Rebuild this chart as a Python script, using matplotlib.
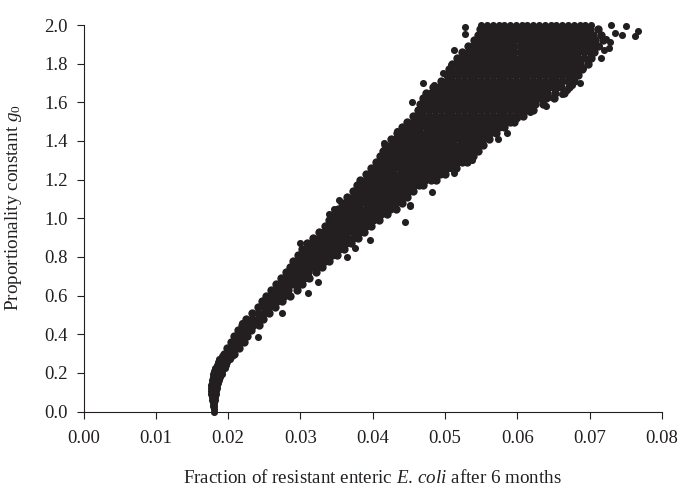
import matplotlib
matplotlib.use('Agg')
import matplotlib.pyplot as plt

# narrow foot of the cloud, drawn at the true dot size
tip_y = [0.00, 0.015, 0.03, 0.045, 0.06, 0.075, 0.09, 0.105, 0.12, 0.135, 0.15, 0.165, 0.18, 0.195, 0.21, 0.225, 0.24,
         0.255, 0.27, 0.285]
tip_x = [[.0180], [.0180], [.0179, .0181], [.0179, .0181], [.0178, .0182], [.0178, .0182], [.0177, .0183],
         [.0177, .0180, .0183], [.0177, .0181, .0184], [.0177, .0181, .0185], [.0178, .0182, .0186],
         [.0178, .0183, .0188], [.0179, .0184, .0189], [.0179, .0185, .0191], [.0180, .0186, .0192],
         [.0182, .0188, .0195], [.0184, .0190, .0197], [.0186, .0193, .0199], [.0188, .0195, .0202],
         [.0191, .0198, .0205]]

# points, row by row (one y value, several x values)
low_y = [0.30, 0.33, 0.36, 0.39, 0.42, 0.45, 0.48, 0.51, 0.54, 0.57, 0.60, 0.63, 0.66, 0.69, 0.72]
low_x = [
    [.0194, .0201, .0208],
    [.0199, .0207, .0215], [.0204, .0213, .0222], [.0208, .0217, .0226], [.0213, .0222, .0232],
    [.0219, .0227, .0235, .0243], [.0225, .0233, .0241, .0248], [.0233, .0241, .0249, .0257],
    [.0241, .0249, .0257, .0265], [.0247, .0254, .0261, .0268, .0275], [.0253, .0261, .0269, .0277, .0285],
    [.0259, .0267, .0275, .0283, .0295], [.0266, .0273, .0280, .0288, .0295, .0302],
    [.0273, .0281, .0289, .0297, .0305, .0312], [.0280, .0287, .0295, .0303, .0311, .0321],
]

mid_y = [0.75, 0.78, 0.81, 0.84, 0.87, 0.90, 0.93, 0.96, 0.99, 1.02, 1.05, 1.08, 1.11, 1.14, 1.17, 1.20, 1.23, 1.26,
         1.29, 1.32, 1.35, 1.38, 1.41, 1.44]
mid_x = [
    [.0285, .0292, .0300, .0308, .0316, .0323, .0330],
    [.0290, .0298, .0306, .0313, .0320, .0327, .0334, .0340],
    [.0296, .0303, .0311, .0319, .0327, .0335, .0343, .0350],
    [.0302, .0309, .0316, .0323, .0331, .0338, .0346, .0353, .0360],
    [.0309, .0317, .0325, .0333, .0341, .0348, .0355, .0363, .0370],
    [.0318, .0325, .0333, .0340, .0348, .0356, .0364, .0372, .0380],
    [.0326, .0333, .0341, .0349, .0357, .0365, .0373, .0381, .0388],
    [.0334, .0342, .0350, .0358, .0366, .0374, .0382, .0390, .0397],
    [.0340, .0347, .0355, .0363, .0371, .0379, .0386, .0393, .0400, .0408],
    [.0346, .0354, .0362, .0370, .0378, .0386, .0394, .0402, .0411, .0420],
    [.0352, .0359, .0367, .0375, .0383, .0391, .0399, .0407, .0415, .0424, .0432],
    [.0358, .0366, .0374, .0382, .0390, .0398, .0406, .0414, .0422, .0431, .0440],
    [.0365, .0372, .0380, .0388, .0396, .0404, .0412, .0420, .0428, .0436, .0442, .0448],
    [.0373, .0381, .0389, .0397, .0405, .0413, .0421, .0429, .0437, .0444, .0450, .0455],
    [.0378, .0385, .0393, .0401, .0409, .0417, .0425, .0433, .0441, .0449, .0457, .0464, .0470],
    [.0383, .0391, .0399, .0407, .0415, .0423, .0431, .0439, .0447, .0455, .0463, .0472, .0480, .0488],
    [.0390, .0397, .0405, .0413, .0421, .0429, .0437, .0445, .0453, .0461, .0469, .0477, .0485, .0493, .0500],
    [.0398, .0406, .0414, .0422, .0430, .0438, .0446, .0454, .0462, .0470, .0478, .0486, .0494, .0502, .0509, .0515],
    [.0405, .0412, .0420, .0428, .0436, .0444, .0452, .0460, .0468, .0476, .0484, .0492, .0500, .0508, .0516, .0523,
     .0530],
    [.0410, .0418, .0426, .0434, .0442, .0450, .0458, .0466, .0474, .0482, .0490, .0498, .0506, .0514, .0522, .0530,
     .0538],
    [.0414, .0421, .0429, .0437, .0445, .0453, .0461, .0469, .0477, .0485, .0493, .0501, .0509, .0517, .0525, .0533,
     .0540, .0545],
    [.0417, .0425, .0433, .0441, .0449, .0457, .0465, .0473, .0481, .0489, .0497, .0505, .0513, .0521, .0529, .0537,
     .0545, .0552],
    [.0425, .0432, .0440, .0448, .0456, .0464, .0472, .0480, .0488, .0496, .0504, .0512, .0520, .0528, .0536, .0544,
     .0552, .0561],
    [.0434, .0442, .0450, .0458, .0466, .0474, .0482, .0490, .0498, .0506, .0514, .0522, .0530, .0538, .0546, .0554,
     .0562, .0571],
]

high_y = [1.47, 1.50, 1.53, 1.56, 1.59, 1.62, 1.65, 1.68, 1.71, 1.74, 1.77, 1.80, 1.83, 1.86, 1.89, 1.92, 1.95, 1.98]
high_x = [
    [.0441, .0449, .0457, .0465, .0473, .0481, .0489, .0497, .0505, .0513, .0521, .0529, .0537, .0545, .0553, .0561,
     .0569, .0575, .0581],
    [.0448, .0456, .0464, .0472, .0480, .0488, .0496, .0504, .0512, .0520, .0528, .0536, .0544, .0552, .0560, .0568,
     .0576, .0584, .0590, .0595],
    [.0455, .0462, .0470, .0478, .0486, .0494, .0502, .0510, .0518, .0526, .0534, .0542, .0550, .0558, .0566, .0574,
     .0582, .0590, .0598, .0608],
    [.0462, .0470, .0478, .0486, .0494, .0502, .0510, .0518, .0526, .0534, .0542, .0550, .0558, .0566, .0574, .0582,
     .0590, .0598, .0606, .0614, .0622],
    [.0466, .0473, .0481, .0489, .0497, .0505, .0513, .0521, .0529, .0537, .0545, .0553, .0561, .0569, .0577, .0585,
     .0593, .0601, .0609, .0617, .0625, .0636],
    [.0470, .0478, .0486, .0494, .0502, .0510, .0518, .0526, .0534, .0542, .0550, .0558, .0566, .0574, .0582, .0590,
     .0598, .0606, .0614, .0622, .0630, .0640, .0650],
    [.0474, .0481, .0489, .0497, .0505, .0513, .0521, .0529, .0537, .0545, .0553, .0561, .0569, .0577, .0585, .0593,
     .0601, .0609, .0617, .0625, .0633, .0641, .0652, .0664],
    [.0484, .0492, .0500, .0508, .0516, .0524, .0532, .0540, .0548, .0556, .0564, .0572, .0580, .0588, .0596, .0604,
     .0612, .0620, .0628, .0636, .0644, .0652, .0660, .0672],
    [.0495, .0502, .0510, .0518, .0526, .0534, .0542, .0550, .0558, .0566, .0574, .0582, .0590, .0598, .0606, .0614,
     .0622, .0630, .0638, .0646, .0654, .0662, .0670, .0678],
    [.0502, .0510, .0518, .0526, .0534, .0542, .0550, .0558, .0566, .0574, .0582, .0590, .0598, .0606, .0614, .0622,
     .0630, .0638, .0646, .0654, .0662, .0670, .0678, .0684],
    [.0506, .0513, .0521, .0529, .0537, .0545, .0553, .0561, .0569, .0577, .0585, .0593, .0601, .0609, .0617, .0625,
     .0633, .0641, .0649, .0657, .0665, .0673, .0681, .0690],
    [.0510, .0518, .0526, .0534, .0542, .0550, .0558, .0566, .0574, .0582, .0590, .0598, .0606, .0614, .0622, .0630,
     .0638, .0646, .0654, .0662, .0670, .0678, .0686, .0697],
    [.0516, .0523, .0531, .0539, .0547, .0555, .0563, .0571, .0579, .0587, .0595, .0603, .0611, .0619, .0627, .0635,
     .0643, .0651, .0659, .0667, .0675, .0683, .0692, .0702],
    [.0524, .0532, .0540, .0548, .0556, .0564, .0572, .0580, .0588, .0596, .0604, .0612, .0620, .0628, .0636, .0644,
     .0652, .0660, .0668, .0676, .0684, .0692, .0700, .0706],
    [.0532, .0539, .0547, .0555, .0563, .0571, .0579, .0587, .0595, .0603, .0611, .0619, .0627, .0635, .0643, .0651,
     .0659, .0667, .0675, .0683, .0691, .0699, .0706, .0712],
    [.0540, .0548, .0556, .0564, .0572, .0580, .0588, .0596, .0604, .0612, .0620, .0628, .0636, .0644, .0652, .0660,
     .0668, .0676, .0684, .0692, .0700, .0708, .0718],
    [.0545, .0553, .0561, .0569, .0577, .0585, .0593, .0601, .0609, .0617, .0625, .0633, .0641, .0649, .0657, .0665,
     .0673, .0681, .0689, .0697, .0705, .0715],
    [.0548, .0556, .0564, .0572, .0580, .0588, .0596, .0604, .0612, .0620, .0628, .0636, .0644, .0652, .0660, .0668,
     .0676, .0684, .0692, .0700, .0712],
]

# single points standing off the edge of the cloud, and the top row that sits on y = 2
stray_x = [.0767, .0762, .0750, .0730, .0716, .0727, .0687, .0662, .0640, .0644, .0617, .0603, .0599, .0573, .0585,
           .0537, .0513, .0482, .0452, .0527, .0528, .0512, .0470, .0454, .0415, .0524, .0508, .0497, .0426, .0433,
           .0467, .0485, .0676, .0691, .0675, .0668, .0658, .0648, .0698, .0713, .0444, .0300, .0324, .0310, .0274,
           .0241, .0219, .0354, .0339, .0347, .0452, .0396, .0364, .0375, .0722, .0735, .0712, .0745, .0728, .0720,
           .0550, .0558, .0566, .0574, .0582, .0590, .0598, .0606, .0614, .0622, .0630, .0638, .0646, .0654, .0662,
           .0670, .0678, .0686, .0694, .0702]
stray_y = [1.971, 1.945, 1.997, 2.000, 1.83, 1.88, 1.70, 1.645, 1.58, 1.63, 1.55, 1.56, 1.52, 1.41, 1.44,
           1.30, 1.235, 1.137, 1.065, 1.99, 1.955, 1.87, 1.70, 1.60, 1.39, 1.86, 1.795, 1.75, 1.41, 1.45,
           1.59, 1.69, 1.74, 1.78, 1.69, 1.665, 1.68, 1.68, 1.82, 1.89, 0.98, 0.873, 0.67, 0.614, 0.51,
           0.386, 0.459, 1.096, 1.023, 1.05, 1.07, 0.889, 0.80, 0.847, 1.93, 1.96, 1.98, 1.95, 1.91, 1.87,
           2.0, 2.0, 2.0, 2.0, 2.0, 2.0, 2.0, 2.0, 2.0, 2.0, 2.0, 2.0, 2.0, 2.0, 2.0,
           2.0, 2.0, 2.0, 2.0, 2.0]

x_ticks = [0.00, 0.01, 0.02, 0.03, 0.04, 0.05, 0.06, 0.07, 0.08]
y_ticks = [0.0, 0.2, 0.4, 0.6, 0.8, 1.0, 1.2, 1.4, 1.6, 1.8, 2.0]

INK = '#231f20'

plt.rcParams['font.family'] = ['Liberation Serif', 'DejaVu Serif']
plt.rcParams['mathtext.fontset'] = 'custom'
plt.rcParams['mathtext.rm'] = 'Liberation Serif'
plt.rcParams['mathtext.it'] = 'Liberation Serif:italic'


def flatten(levels, rows):
    xs, ys = [], []
    for level, row in zip(levels, rows):
        xs += row
        ys += [level] * len(row)
    return xs, ys


tip_xs, tip_ys = flatten(tip_y, tip_x)
core_xs, core_ys = [], []
for levels, rows in [(low_y, low_x), (mid_y, mid_x), (high_y, high_x)]:
    part_x, part_y = flatten(levels, rows)
    core_xs += part_x
    core_ys += part_y

fig = plt.figure(figsize=(6.85, 4.9), dpi=100)
ax = fig.add_axes([83.5 / 685, 1 - 411.5 / 490, (662 - 83.5) / 685, (411.5 - 25) / 490])

# core rows are sparser than the real cloud, so their dots are a bit larger to close it up
ax.scatter(core_xs, core_ys, s=36, c=INK, linewidths=0, clip_on=False, zorder=3)
ax.scatter(tip_xs, tip_ys, s=26, c=INK, linewidths=0, clip_on=False, zorder=3)
ax.scatter(stray_x, stray_y, s=26, c=INK, linewidths=0, clip_on=False, zorder=3)

ax.set_xlim(0, 0.08)
ax.set_ylim(0, 2.0)
ax.set_xticks(x_ticks)
ax.set_xticklabels(['%.2f' % v for v in x_ticks])
ax.set_yticks(y_ticks)
ax.set_yticklabels(['%.1f' % v for v in y_ticks])
ax.tick_params(length=5, width=0.8, color=INK, labelcolor=INK, labelsize=13.5)
ax.tick_params(axis='x', pad=8)
ax.tick_params(axis='y', pad=6.5)

ax.spines['top'].set_visible(False)
ax.spines['right'].set_visible(False)
for side in ['left', 'bottom']:
    ax.spines[side].set_linewidth(0.8)
    ax.spines[side].set_color(INK)

fig.text(372.5 / 685, 1 - 478 / 490, r'Fraction of resistant enteric $\mathit{E.\,coli}$ after 6 months',
         color=INK, fontsize=13.7, ha='center', va='center')
fig.text(14 / 685, 1 - 207.5 / 490, r'Proportionality constant $\mathit{g_0}$',
         color=INK, fontsize=13.8, rotation=90, ha='center', va='center')

fig.savefig('out.png', dpi=100)
